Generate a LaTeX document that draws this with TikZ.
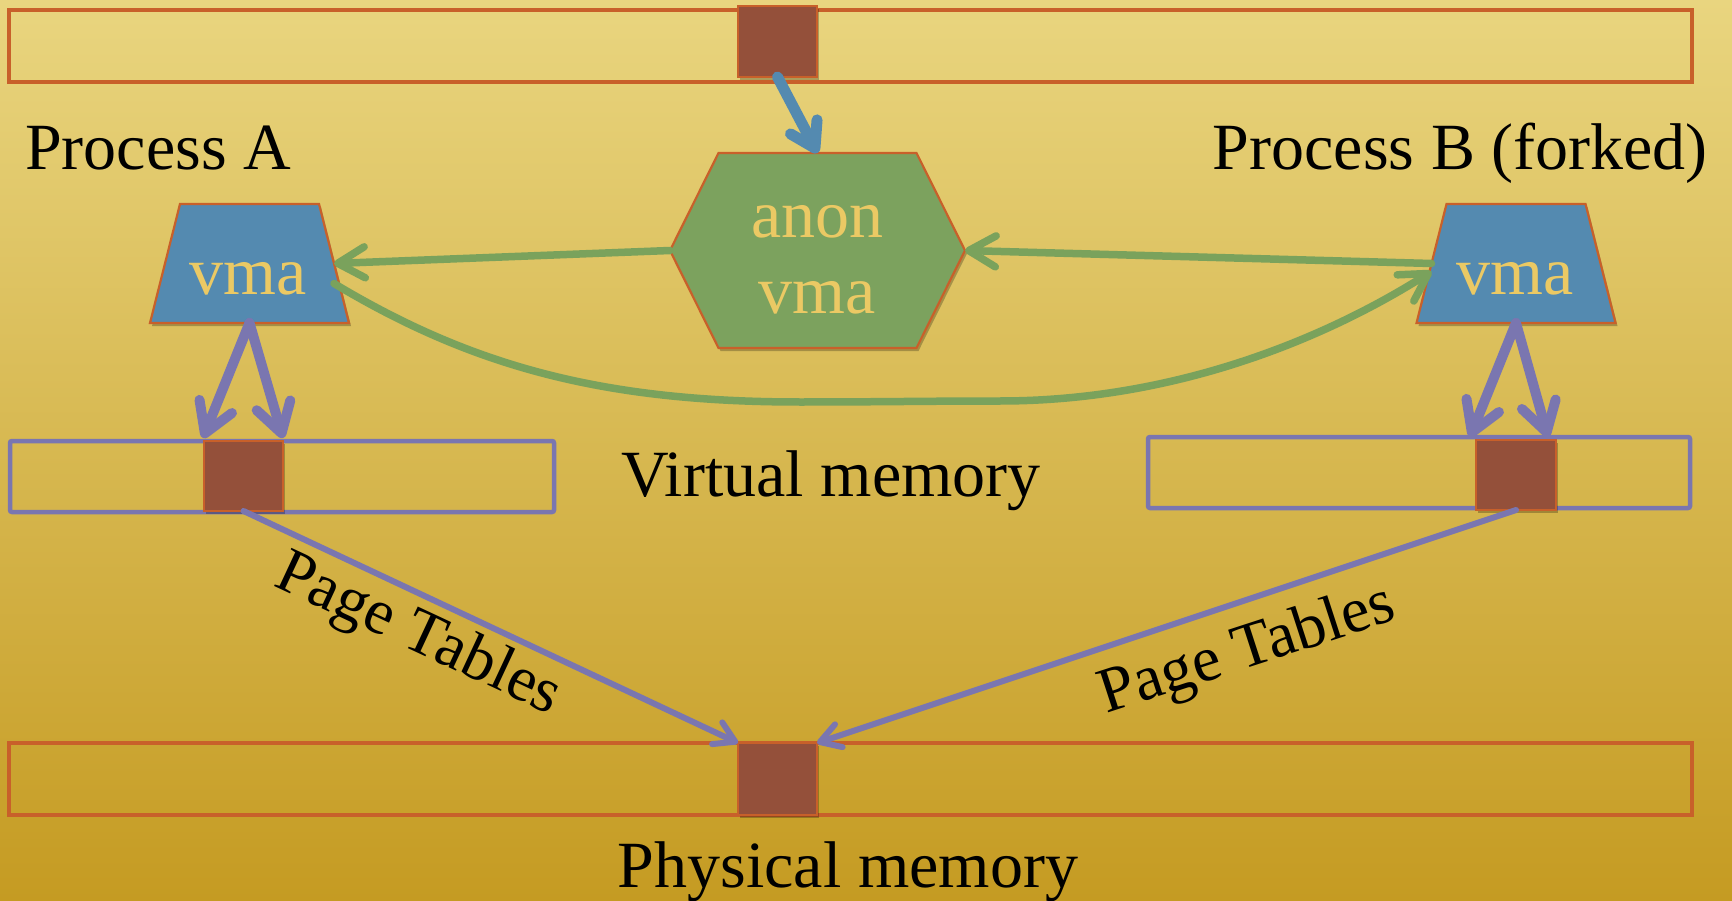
\documentclass[tikz,border=0pt]{standalone}
\usepackage{fontspec}
\setmainfont{Liberation Serif}
\usetikzlibrary{arrows.meta,shadows}
\definecolor{bgtop}{HTML}{E9D57F}
\definecolor{bgmid}{HTML}{D9BA5A}
\definecolor{bgbot}{HTML}{C59B22}
\definecolor{orng}{HTML}{C8602A}
\definecolor{brick}{HTML}{94503A}
\definecolor{vblue}{HTML}{548AB0}
\definecolor{vgreen}{HTML}{7CA25E}
\definecolor{agreen}{HTML}{7AA25C}
\definecolor{vpurp}{HTML}{7A76B0}
\definecolor{vtxt}{HTML}{EBC964}
\begin{document}
\begin{tikzpicture}[x=1pt,y=-1pt,
  memorybar/.style={draw=orng, line width=4.5pt, inner sep=0pt, outer sep=0pt},
  vbar/.style={draw=vpurp, line width=4.5pt, rounded corners=2pt, inner sep=0pt, outer sep=0pt},
  softshadow/.style={drop shadow={shadow xshift=2pt, shadow yshift=-3pt, opacity=0.25, fill=black}},
  pagebox/.style={draw=orng, line width=2.5pt, fill=brick, inner sep=0pt, outer sep=0pt, softshadow},
  anchorbox/.style={inner sep=0pt, outer sep=0pt, draw=none},
  shapeline/.style={draw=orng, line width=2.2pt, line join=miter},
  lbl/.style={font=\fontsize{66}{78}\selectfont, text=black, inner sep=0pt},
  vlbl/.style={font=\fontsize{68}{80}\selectfont, text=vtxt, inner sep=0pt},
  bluearr/.style={draw=vblue, line width=11pt, line cap=round, -{Straight Barb[length=24pt,width=30pt,round]}},
  greenarr/.style={draw=agreen, line width=7.5pt, line cap=round, -{Straight Barb[length=27pt,width=31pt,round]}},
  purparr/.style={draw=vpurp, line width=10pt, line cap=round, -{Straight Barb[length=29pt,width=35pt,round]}},
  ptarr/.style={draw=vpurp, line width=6pt, line cap=round, -{Straight Barb[length=20pt,width=24pt,round]}}
]
\useasboundingbox (0,0) rectangle (1732,901);
\shade[top color=bgtop, middle color=bgmid, bottom color=bgbot] (0,0) rectangle (1732,901);

% memory bars
\node[memorybar, minimum width=1683pt, minimum height=72pt] (barTop) at (850.5,46) {};
\node[vbar, minimum width=544pt, minimum height=71pt] (barVA) at (282,476.5) {};
\node[vbar, minimum width=542pt, minimum height=71pt] (barVB) at (1419,472.5) {};
\node[memorybar, minimum width=1683pt, minimum height=72pt] (barPhys) at (850.5,779) {};

% pages
\node[pagebox, minimum width=79pt, minimum height=71pt] (sqTop) at (777.5,41.5) {};
\node[pagebox, minimum width=79pt, minimum height=70pt] (sqA) at (243.5,476) {};
\node[pagebox, minimum width=80pt, minimum height=70pt] (sqB) at (1516,475) {};
\node[pagebox, minimum width=79pt, minimum height=72pt] (sqP) at (777.5,779) {};

% anon vma hexagon
\node[anchorbox, minimum width=295pt, minimum height=195pt] (anon) at (817.5,250.5) {};
\filldraw[shapeline, fill=vgreen, softshadow] (anon.west) -- ([xshift=-99pt]anon.north) -- ([xshift=99pt]anon.north) -- (anon.east) -- ([xshift=99pt]anon.south) -- ([xshift=-99pt]anon.south) -- cycle;
\node[vlbl, anchor=base] (anonT1) at (817.5,238) {anon};
\node[vlbl, anchor=base] (anonT2) at (817.5,313) {vma};

% vma trapezoids
\node[anchorbox, minimum width=169pt, minimum height=119pt] (vmaA) at (249.5,263.5) {};
\filldraw[shapeline, fill=vblue, softshadow] ([xshift=-69.5pt]vmaA.north) -- ([xshift=69.5pt]vmaA.north) -- ([xshift=99.5pt]vmaA.south) -- ([xshift=-99.5pt]vmaA.south) -- cycle;
\node[vlbl, anchor=base] (vmaAT) at (248,295) {vma};

\node[anchorbox, minimum width=169pt, minimum height=119pt] (vmaB) at (1516,263.5) {};
\filldraw[shapeline, fill=vblue, softshadow] ([xshift=-69.5pt]vmaB.north) -- ([xshift=69.5pt]vmaB.north) -- ([xshift=99.5pt]vmaB.south) -- ([xshift=-99.5pt]vmaB.south) -- cycle;
\node[vlbl, anchor=base] (vmaBT) at (1515,295) {vma};

% labels
\node[lbl, anchor=base west] (procA) at (25,170) {Process A};
\node[lbl, anchor=base east] (procB) at (1708,170) {Process B (forked)};
\node[lbl, anchor=base] (virt) at (831,496) {Virtual memory};
\node[lbl, anchor=base] (phys) at (848,887) {Physical memory};
\node[lbl, font=\fontsize{64}{75}\selectfont, rotate=-25] (ptA) at (418,636) {Page Tables};
\node[lbl, font=\fontsize{64}{75}\selectfont, rotate=18] (ptB) at (1248,652) {Page Tables};

% connectors
\draw[bluearr] (sqTop.south) -- (anon.north);
\draw[greenarr] (anon.west) -- (vmaA.east);
\draw[greenarr] (vmaB.west) -- (anon.east);
\draw[greenarr] ([yshift=-20pt]vmaA.east) .. controls (470,365) and (600,402) .. (800,402)
  .. controls (880,402) and (930,401) .. (1000,401)
  .. controls (1170,401) and (1320,342) .. ([yshift=-8pt]vmaB.west);
\draw[purparr] (vmaA.south) -- ([xshift=-1pt,yshift=3pt]sqA.north west);
\draw[purparr] (vmaA.south) -- ([yshift=3pt]sqA.north east);
\draw[purparr] (vmaB.south) -- ([xshift=-6pt,yshift=3pt]sqB.north west);
\draw[purparr] (vmaB.south) -- ([xshift=-8pt,yshift=3pt]sqB.north east);
\draw[ptarr] (sqA.south) -- (sqP.north west);
\draw[ptarr] (sqB.south) -- (sqP.north east);
\end{tikzpicture}
\end{document}
